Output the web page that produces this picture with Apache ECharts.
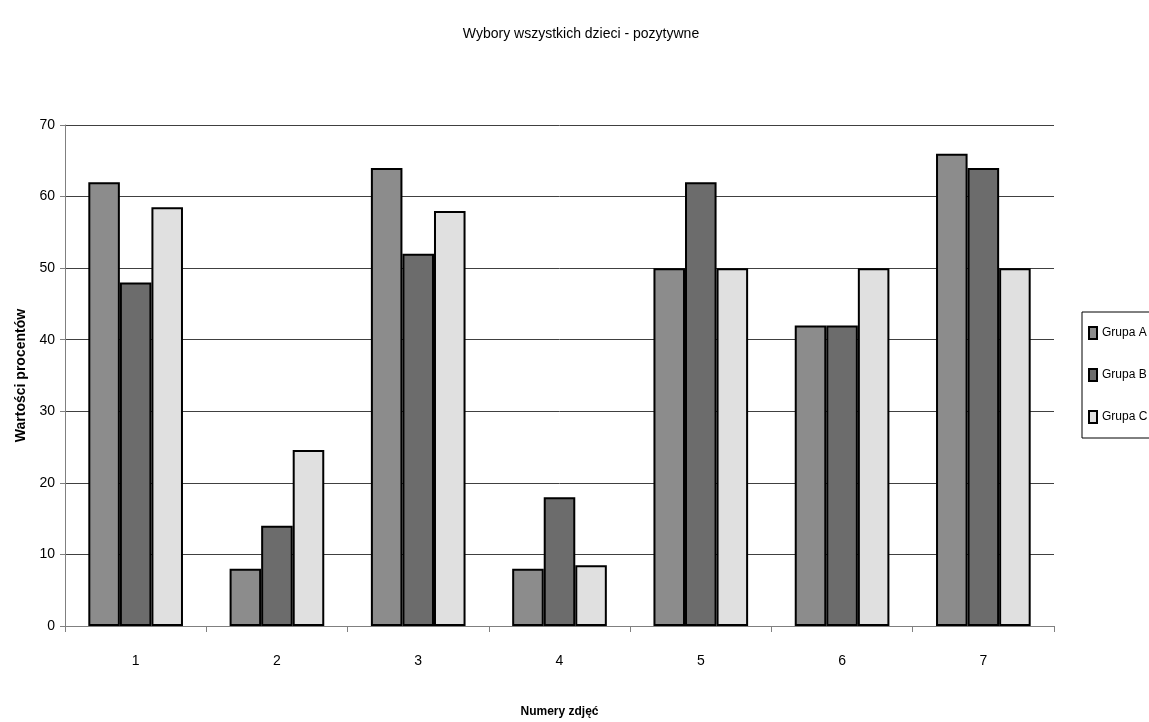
<!DOCTYPE html>
<html><head><meta charset="utf-8">
<script src="https://cdn.jsdelivr.net/npm/echarts@6/dist/echarts.min.js"></script>
<style>html,body{margin:0;padding:0;background:#fff}#c{width:1149px;height:722px}</style>
</head><body><div id="c"></div>
<script>
const categories = ['1','2','3','4','5','6','7'];
const grupaA = [62, 8, 64, 8, 50, 42, 66];
const grupaB = [48, 14, 52, 18, 62, 42, 64];
const grupaC = [58.5, 24.6, 58, 8.5, 50, 50, 50];
const seriesNames = ['Grupa A', 'Grupa B', 'Grupa C'];
const colors = ['#8c8c8c', '#6c6c6c', '#e0e0e0'];

const chart = echarts.init(document.getElementById('c'));
const mk = (name, data, color) => ({
  name, type: 'bar', data, barGap: '0%', barCategoryGap: '33%',
  itemStyle: { color, borderColor: '#000', borderWidth: 2 }
});
chart.setOption({
  animation: false,
  backgroundColor: '#fff',
  textStyle: { fontFamily: 'Liberation Sans, Arial, sans-serif' },
  title: {
    text: 'Wybory wszystkich dzieci - pozytywne',
    left: 576, top: 22, textAlign: 'center',
    textStyle: { fontSize: 14, fontWeight: 'normal', color: '#000', fontFamily: 'Liberation Sans Narrow, Liberation Sans, sans-serif' }
  },
  legend: {
    orient: 'vertical', left: 1082, top: 312,
    icon: 'rect',
    itemWidth: 8, itemHeight: 12, itemGap: 28,
    padding: [14, 10, 14, 6],
    borderColor: '#000', borderWidth: 1,
    textStyle: { fontSize: 12, color: '#000', fontFamily: 'Liberation Sans Narrow, Liberation Sans, sans-serif' },
    data: seriesNames.map(n => ({ name: n, itemStyle: { borderColor: '#000', borderWidth: 2 } }))
  },
  grid: { left: 65, right: 95, top: 125, bottom: 96, outerBoundsMode: 'none', containLabel: false },
  xAxis: {
    type: 'category', data: categories,
    name: 'Numery zdjęć', nameLocation: 'middle', nameGap: 80,
    nameTextStyle: { fontSize: 12, color: '#000', fontWeight: 'bold', fontFamily: 'Liberation Sans Narrow, Liberation Sans, sans-serif' },
    axisLine: { lineStyle: { color: '#808080', width: 1 } },
    axisTick: { show: true, length: 6, lineStyle: { color: '#808080' } },
    axisLabel: { fontSize: 14, color: '#000', margin: 28 }
  },
  yAxis: {
    type: 'value', min: 0, max: 70, interval: 10,
    name: 'Wartości procentów', nameLocation: 'middle', nameGap: 37,
    nameTextStyle: { fontSize: 14, color: '#000', fontWeight: 'bold' },
    axisLine: { show: true, lineStyle: { color: '#808080', width: 1 } },
    axisTick: { show: true, length: 5, lineStyle: { color: '#808080' } },
    axisLabel: { fontSize: 14, color: '#000', margin: 10 },
    splitLine: { lineStyle: { color: '#404040', width: 1 } }
  },
  color: colors,
  series: [mk(seriesNames[0], grupaA, colors[0]), mk(seriesNames[1], grupaB, colors[1]), mk(seriesNames[2], grupaC, colors[2])]
});
</script></body></html>
